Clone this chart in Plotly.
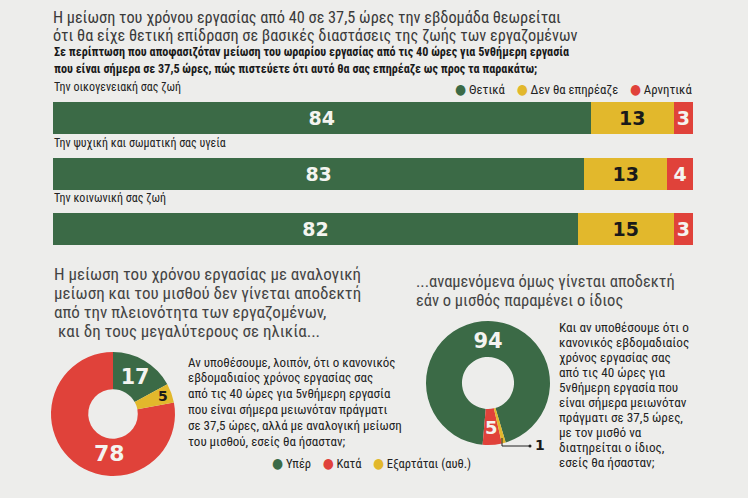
import math
import plotly.graph_objects as go

W, H = 748, 498

# ---------------- data ----------------
title_lines = [
    "Η μείωση του χρόνου εργασίας από 40 σε 37,5 ώρες την εβδομάδα θεωρείται",
    "ότι θα είχε θετική επίδραση σε βασικές διαστάσεις της ζωής των εργαζομένων",
]
subtitle_lines = [
    "Σε περίπτωση που αποφασιζόταν μείωση του ωραρίου εργασίας από τις 40 ώρες για 5νθήμερη εργασία",
    "που είναι σήμερα σε 37,5 ώρες, πώς πιστεύετε ότι αυτό θα σας επηρέαζε ως προς τα παρακάτω;",
]
bar_categories = ["Την οικογενειακή σας ζωή", "Την ψυχική και σωματική σας υγεία", "Την κοινωνική σας ζωή"]
bar_series = ["Θετικά", "Δεν θα επηρέαζε", "Αρνητικά"]
bar_positive = [84, 83, 82]
bar_neutral = [13, 13, 15]
bar_negative = [3, 4, 3]

left_heading = [
    "Η μείωση του χρόνου εργασίας με αναλογική",
    "μείωση και του μισθού δεν γίνεται αποδεκτή",
    "από την πλειονότητα των εργαζομένων,",
    " και δη τους μεγαλύτερους σε ηλικία...",
]
left_question = [
    "Αν υποθέσουμε, λοιπόν, ότι ο κανονικός",
    "εβδομαδιαίος χρόνος εργασίας σας",
    "από τις 40 ώρες για 5νθήμερη εργασία",
    "που είναι σήμερα μειωνόταν πράγματι",
    "σε 37,5 ώρες, αλλά με αναλογική μείωση",
    "του μισθού, εσείς θα ήσασταν;",
]
right_heading = [
    "...αναμενόμενα όμως γίνεται αποδεκτή",
    "εάν ο μισθός παραμένει ο ίδιος",
]
right_question = [
    "Και αν υποθέσουμε ότι ο",
    "κανονικός εβδομαδιαίος",
    "χρόνος εργασίας σας",
    "από τις 40 ώρες για",
    "5νθήμερη εργασία που",
    "είναι σήμερα μειωνόταν",
    "πράγματι σε 37,5 ώρες,",
    "με τον μισθό να",
    "διατηρείται ο ίδιος,",
    "εσείς θα ήσασταν;",
]
pie_labels = ["Υπέρ", "Κατά", "Εξαρτάται (αυθ.)"]
pie_left_values = [17, 78, 5]
pie_right_values = [94, 5, 1]

# ---------------- styles ----------------
GREEN = "#3b6a46"
YELLOW = "#e2b82c"
RED = "#e0423a"
BG = "#ededeb"
FONT = "Liberation Sans Narrow, Roboto Condensed, DejaVu Sans Condensed, Roboto, sans-serif"
NUMFONT = "DejaVu Sans, sans-serif"
series_colors = [GREEN, YELLOW, RED]


def px(x):
    return x / W


def py(y):
    return 1 - y / H


fig = go.Figure()

# ---------------- stacked bars ----------------
bar_text_colors = ["#f4f4f0", "#1a1a1a", "#f4f4f0"]
for name, vals, col, tcol in zip(bar_series, [bar_positive, bar_neutral, bar_negative],
                                 series_colors, bar_text_colors):
    fig.add_trace(go.Bar(
        y=bar_categories, x=vals, orientation="h", name=name,
        marker=dict(color=col, line=dict(width=0)),
        texttemplate="%{x}", textposition="inside", insidetextanchor="middle",
        textfont=dict(family=NUMFONT, size=19, color=tcol, weight="bold"),
        constraintext="none", showlegend=False, hoverinfo="x+name",
        width=0.575,
    ))

bar_top, bar_bottom = 90.5, 269
fig.update_layout(
    barmode="stack",
    xaxis=dict(domain=[px(53), px(693)], range=[0, 100], visible=False, fixedrange=True),
    yaxis=dict(domain=[py(bar_bottom), py(bar_top)], type="category",
               autorange="reversed", visible=False, fixedrange=True),
)

annotations = []


def add_text(text, x, y, size, color="#222", bold=False, anchor="left", xref="paper", yref="paper", yshift=0):
    if bold:
        text = "<b>" + text + "</b>"
    annotations.append(dict(
        text=text, x=x, y=y, xref=xref, yref=yref, xanchor=anchor, yanchor="middle",
        showarrow=False, font=dict(family=FONT, size=size, color=color), yshift=yshift,
    ))


# titles
for i, line in enumerate(title_lines):
    add_text(line, px(51), py(17.5 + i * 18), 16.3, "#3a3a3a")
for i, line in enumerate(subtitle_lines):
    add_text(line, px(52), py(52.5 + i * 17), 12.2, "#1a1a1a", bold=True)

# category labels above bars
for cat in bar_categories:
    add_text(cat, px(52), cat, 12, "#222", xref="paper", yref="y", yshift=31)

# top legend
SEP = "&nbsp;&nbsp;&nbsp;&nbsp;"
legend_top = SEP.join(
    f"<span style='color:{c};font-size:14px'>●</span> {n}" for n, c in zip(bar_series, series_colors))
add_text(legend_top, px(694), py(89), 12.8, "#222", anchor="right")

# ---------------- donuts ----------------
L_CX, L_CY, R_CX, R_CY, RAD = 113, 414, 488, 383, 62
L_ROT, R_ROT = 0, -175

fig.add_trace(go.Pie(
    labels=pie_labels, values=pie_left_values, sort=False, direction="counterclockwise",
    rotation=L_ROT, hole=0.4,
    marker=dict(colors=[GREEN, RED, YELLOW], line=dict(width=0)),
    text=[str(pie_left_values[0]), "", ""], textinfo="text",
    textposition="inside", insidetextorientation="horizontal",
    insidetextfont=dict(family=NUMFONT, size=22, color="#f4f4f0", weight="bold"),
    domain=dict(x=[px(L_CX - RAD), px(L_CX + RAD)], y=[py(L_CY + RAD), py(L_CY - RAD)]),
    showlegend=False, hoverinfo="label+value",
))

fig.add_trace(go.Pie(
    labels=pie_labels, values=pie_right_values, sort=False, direction="counterclockwise",
    rotation=R_ROT, hole=0.42,
    marker=dict(colors=[GREEN, RED, YELLOW], line=dict(width=0)),
    text=[str(pie_right_values[0]), "", ""], textinfo="text",
    textposition="inside", insidetextorientation="horizontal",
    insidetextfont=dict(family=NUMFONT, size=21, color="#f4f4f0", weight="bold"),
    domain=dict(x=[px(R_CX - RAD), px(R_CX + RAD)], y=[py(R_CY + RAD), py(R_CY - RAD)]),
    showlegend=False, hoverinfo="label+value",
))


def slice_mid_angle(values, idx, rotation):
    """Clockwise angle from 12 o'clock of the middle of slice idx.
    Plotly counterclockwise layout: slice 0 spans [rot, rot+a0], then the
    following slices continue counterclockwise from rot."""
    total = sum(values)
    ang = [360 * v / total for v in values]
    if idx == 0:
        return rotation + ang[0] / 2
    return rotation - (sum(ang[1:idx]) + ang[idx] / 2)


def polar_label(cx, cy, r, ang, text, size, color):
    x = cx + r * math.sin(math.radians(ang))
    y = cy - r * math.cos(math.radians(ang))
    annotations.append(dict(
        text=f"<b>{text}</b>", x=px(x), y=py(y), xref="paper", yref="paper",
        xanchor="center", yanchor="middle", showarrow=False,
        font=dict(family=NUMFONT, size=size, color=color),
    ))


# left donut: big red slice label near the bottom, small yellow slice at outer edge
polar_label(L_CX, L_CY, 40, slice_mid_angle(pie_left_values, 1, L_ROT) - 35,
            pie_left_values[1], 22, "#f4f4f0")
polar_label(L_CX, L_CY, 53, slice_mid_angle(pie_left_values, 2, L_ROT),
            pie_left_values[2], 14, "#1a1a1a")
# right donut: red slice
polar_label(R_CX, R_CY, 45, slice_mid_angle(pie_right_values, 1, R_ROT),
            pie_right_values[1], 18, "#f4f4f0")

# headings and questions
for i, line in enumerate(left_heading):
    add_text(line, px(52), py(274 + i * 19), 17, "#444")
for i, line in enumerate(left_question):
    add_text(line, px(186), py(362 + i * 15.8), 13, "#222")
for i, line in enumerate(right_heading):
    add_text(line, px(414), py(281 + i * 19.5), 16.5, "#444")
for i, line in enumerate(right_question):
    add_text(line, px(557), py(327 + i * 15.1), 13.2, "#222")

# bottom legend
pie_colors = [GREEN, RED, YELLOW]
legend_bottom = SEP.join(
    f"<span style='color:{c};font-size:14px'>●</span> {n}" for n, c in zip(pie_labels, pie_colors))
add_text(legend_bottom, px(270), py(463), 12.6, "#222")

# callout for the small slice of the right donut
annotations.append(dict(
    text=f"<b>{pie_right_values[2]}</b>", x=px(533), y=py(445), xref="paper", yref="paper",
    xanchor="left", yanchor="middle", showarrow=False,
    font=dict(family=NUMFONT, size=14, color="#1a1a1a"),
))
shapes = [
    dict(type="path", xref="paper", yref="paper",
         path=f"M {px(502)} {py(438)} L {px(502)} {py(446)} L {px(530)} {py(446)}",
         line=dict(color="#222", width=1)),
    dict(type="circle", xref="paper", yref="paper",
         x0=px(528.5), x1=px(531.5), y0=py(447.5), y1=py(444.5),
         fillcolor="#222", line=dict(width=0)),
]

fig.update_layout(
    width=W, height=H, margin=dict(l=0, r=0, t=0, b=0),
    paper_bgcolor=BG, plot_bgcolor=BG,
    annotations=annotations, shapes=shapes,
    font=dict(family=FONT),
)

fig.write_html("out.html", config={"displayModeBar": False},
               post_script="document.body.style.margin='0px';document.body.style.background='" + BG + "';")
